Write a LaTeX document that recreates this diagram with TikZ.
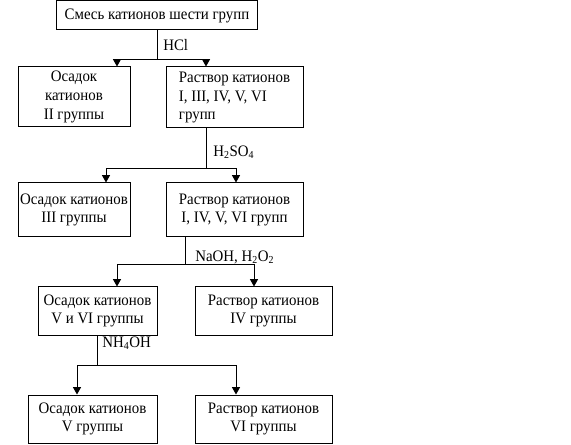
\documentclass[tikz,border=0pt]{standalone}
\usepackage{fontspec}
\setmainfont{Liberation Serif}[FakeStretch=0.93]
\usetikzlibrary{arrows.meta}
\begin{document}
\begin{tikzpicture}[x=0.75pt,y=-0.75pt,
  box/.style={draw,line width=0.75pt,align=center,inner sep=0pt,font=\fontsize{12pt}{14pt}\selectfont},
  lbl/.style={anchor=west,inner sep=0pt,font=\fontsize{12pt}{14pt}\selectfont},
  ln/.style={line width=0.75pt},
  arr/.style={line width=0.75pt,-{Triangle[length=5.5pt,width=6pt]}}]
\useasboundingbox (0,0) rectangle (571,445);
\node[box,minimum width=201*0.75pt,minimum height=29*0.75pt] (b1) at (157,15.5) {Смесь катионов шести групп};
\node[box,minimum width=112*0.75pt,minimum height=60*0.75pt] (b2) at (74,97) {Осадок\\катионов\\II группы};
\node[box,align=left,minimum width=137*0.75pt,minimum height=61*0.75pt] (b3) at (234.5,97.5) {Раствор катионов\\I, III, IV, V, VI\\групп};
\node[box,minimum width=112*0.75pt,minimum height=54*0.75pt] (b4) at (74,210) {Осадок катионов\\III группы};
\node[box,minimum width=137*0.75pt,minimum height=54*0.75pt] (b5) at (234.5,210) {Раствор катионов\\I, IV, V, VI групп};
\node[box,minimum width=119*0.75pt,minimum height=48*0.75pt] (b6) at (97.5,311) {Осадок катионов\\V и VI группы};
\node[box,minimum width=137*0.75pt,minimum height=48*0.75pt] (b7) at (263.5,311) {Раствор катионов\\IV группы};
\node[box,minimum width=129*0.75pt,minimum height=48*0.75pt] (b8) at (92.5,419) {Осадок катионов\\V группы};
\node[box,minimum width=137*0.75pt,minimum height=48*0.75pt] (b9) at (263.5,419) {Раствор катионов\\VI группы};
% junctions
\coordinate (j1) at (157,60);
\coordinate (j2) at (206,169);
\coordinate (j3) at (185,265);
\coordinate (j4) at (97.5,365);
% step 1
\draw[ln] (b1.south) -- (j1);
\draw[arr] (j1) -| ([xshift=32.25pt]b2.north);
\draw[arr] (j1) -| ([xshift=-21.375pt]b3.north);
\node[lbl] (l1) at (163,45) {HCl};
% step 2
\draw[ln] ([xshift=-21.375pt]b3.south) -- (j2);
\draw[arr] (j2) -| ([xshift=24pt]b4.north);
\draw[arr] (j2) -| ([xshift=1.125pt]b5.north);
\node[lbl] (l2) at (213,152) {H\textsubscript{2}SO\textsubscript{4}};
% step 3
\draw[ln] ([xshift=-37.125pt]b5.south) -- (j3);
\draw[arr] (j3) -| ([xshift=14.625pt]b6.north);
\draw[arr] (j3) -| ([xshift=-7.125pt]b7.north);
\node[lbl] (l3) at (195,257) {NaOH, H\textsubscript{2}O\textsubscript{2}};
% step 4
\draw[ln] (b6.south) -- (j4);
\draw[arr] (j4) -| ([xshift=-11.625pt]b8.north);
\draw[arr] (j4) -| ([xshift=-20.625pt]b9.north);
\node[lbl] (l4) at (102,343) {NH\textsubscript{4}OH};
\end{tikzpicture}
\end{document}
